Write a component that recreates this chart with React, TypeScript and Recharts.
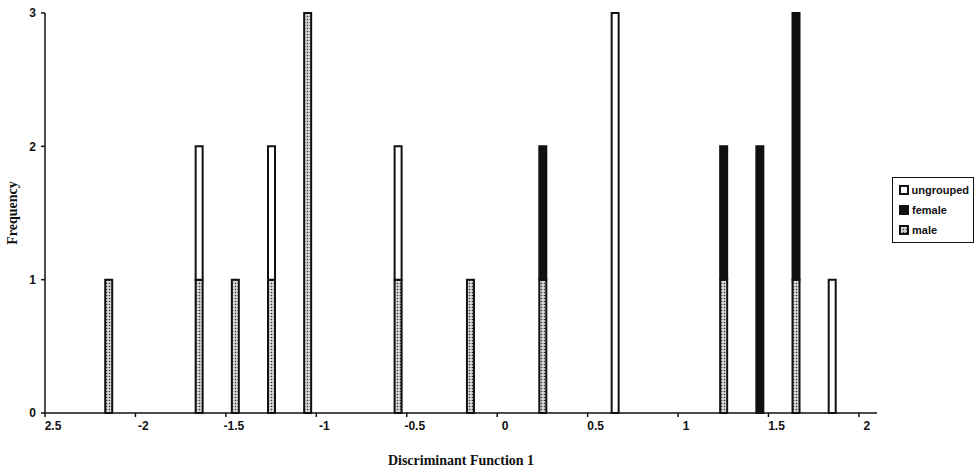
import React from 'react';
import { BarChart, Bar, XAxis, YAxis, Label } from 'recharts';

const binCenters = [-2.15, -1.65, -1.45, -1.25, -1.05, -0.55, -0.15, 0.25, 0.65, 1.25, 1.45, 1.65, 1.85];
const maleCounts = [1, 1, 1, 1, 3, 1, 1, 1, 0, 1, 0, 1, 0];
const femaleCounts = [0, 0, 0, 0, 0, 0, 0, 1, 0, 1, 2, 2, 0];
const ungroupedCounts = [0, 1, 0, 1, 0, 1, 0, 0, 3, 0, 0, 0, 1];

const xTicks = [-2.5, -2, -1.5, -1, -0.5, 0, 0.5, 1, 1.5, 2];
const xTickLabels = ['2.5', '-2', '-1.5', '-1', '-0.5', '0', '0.5', '1', '1.5', '2'];
const yTicks = [0, 1, 2, 3];

const data = binCenters.map((x, i) => ({
  x,
  male: maleCounts[i],
  female: femaleCounts[i],
  ungrouped: ungroupedCounts[i],
}));

const tickFont = { fontFamily: '"Liberation Sans", Arial, sans-serif', fontWeight: 700, fontSize: 12, fill: '#111' };

const legendItems = [
  { name: 'ungrouped', fill: '#fff' },
  { name: 'female', fill: '#111' },
  { name: 'male', fill: 'url(#lgmale)' },
];

const LegendBox = () => (
  <div
    style={{
      position: 'absolute',
      left: 892,
      top: 177,
      width: 70,
      border: '1.5px solid #111',
      padding: '2px 4px 2px 6px',
      fontFamily: '"Liberation Sans", Arial, sans-serif',
      fontWeight: 700,
      fontSize: 11,
      color: '#111',
      lineHeight: '20px',
      background: '#fff',
    }}
  >
    {legendItems.map((it) => (
      <div key={it.name} style={{ display: 'flex', alignItems: 'center' }}>
        <svg width={10} height={10} style={{ marginRight: 3 }}>
          <defs>
            <pattern id="lgmale" width="3" height="3" patternUnits="userSpaceOnUse">
              <rect width="3" height="3" fill="#d8d8d8" />
              <circle cx="1.5" cy="1.5" r="0.8" fill="#333" />
            </pattern>
          </defs>
          <rect x={1} y={1} width={8} height={8} fill={it.fill} stroke="#111" strokeWidth={2} />
        </svg>
        <span>{it.name}</span>
      </div>
    ))}
  </div>
);

export default function App() {
  return (
    <div style={{ position: 'absolute', left: 0, top: 0, width: 979, height: 470, background: '#fff' }}>
      <BarChart
        width={979}
        height={470}
        data={data}
        margin={{ top: 13, right: 102, left: 10, bottom: 5 }}
        barSize={7}
      >
        <defs>
          <pattern id="maleDots" width="3" height="3" patternUnits="userSpaceOnUse">
            <rect width="3" height="3" fill="#d8d8d8" />
            <circle cx="1.5" cy="1.5" r="0.8" fill="#333" />
          </pattern>
        </defs>
        <XAxis
          dataKey="x"
          type="number"
          domain={[-2.5, 2.1]}
          ticks={xTicks}
          interval={0}
          allowDataOverflow
          height={52}
          axisLine={{ stroke: '#111', strokeWidth: 1.5 }}
          tickLine={{ stroke: '#111', strokeWidth: 1.5 }}
          tickSize={4}
          tickMargin={4}
          tick={{ ...tickFont, dx: 8 }}
          tickFormatter={(v: number) => {
            const i = xTicks.indexOf(v);
            return i >= 0 ? xTickLabels[i] : String(v);
          }}
        >
          <Label
            value="Discriminant Function 1"
            position="insideBottom"
            offset={0}
            style={{ fontFamily: '"Liberation Serif", "Times New Roman", serif', fontWeight: 700, fontSize: 14, fill: '#111' }}
          />
        </XAxis>
        <YAxis
          type="number"
          domain={[0, 3]}
          ticks={yTicks}
          interval={0}
          width={35}
          axisLine={{ stroke: '#111', strokeWidth: 1.5 }}
          tickLine={{ stroke: '#111', strokeWidth: 1.5 }}
          tickSize={4}
          tickMargin={5}
          tick={tickFont}
        >
          <Label
            content={(props: any) => {
              const vb = props.viewBox || {};
              const cx = (vb.x ?? 10) + 2;
              const cy = (vb.y ?? 13) + (vb.height ?? 400) / 2;
              return (
                <text
                  x={cx}
                  y={cy}
                  transform={`rotate(-90 ${cx} ${cy})`}
                  textAnchor="middle"
                  dominantBaseline="central"
                  style={{ fontFamily: '"Liberation Serif", "Times New Roman", serif', fontWeight: 700, fontSize: 14, fill: '#111' }}
                >
                  Frequency
                </text>
              );
            }}
          />
        </YAxis>
        <Bar dataKey="male" stackId="a" fill="url(#maleDots)" stroke="#111" strokeWidth={2} isAnimationActive={false} />
        <Bar dataKey="female" stackId="a" fill="#111" stroke="#111" strokeWidth={2} isAnimationActive={false} />
        <Bar dataKey="ungrouped" stackId="a" fill="#fff" stroke="#111" strokeWidth={2} isAnimationActive={false} />
      </BarChart>
      <LegendBox />
    </div>
  );
}
